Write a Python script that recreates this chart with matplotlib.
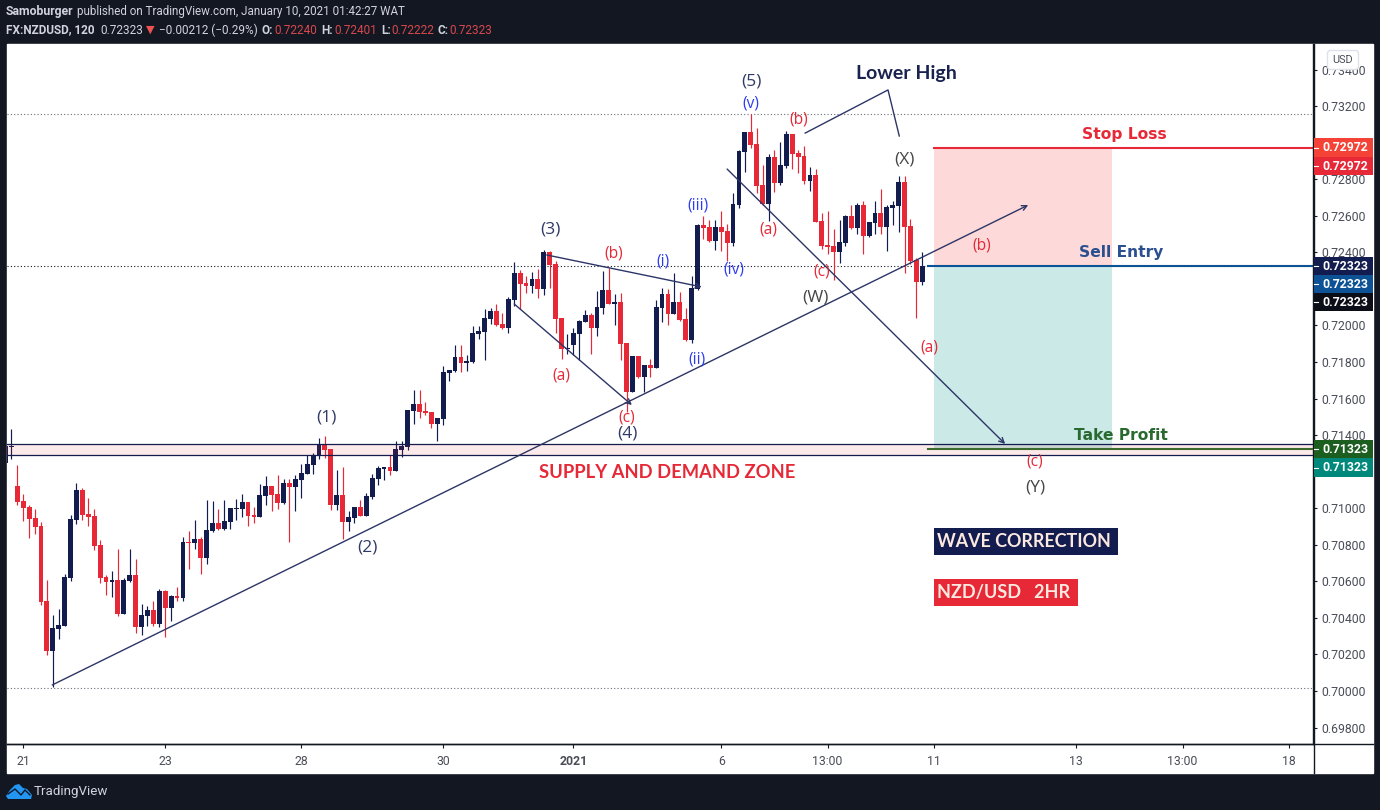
import numpy as np
import matplotlib
matplotlib.use('Agg')
import matplotlib.pyplot as plt
from matplotlib.patches import Rectangle, FancyBboxPatch, Polygon

# OHLC of the 2h bars, in 1e-5 price units
opens = [71249,71337,71122,71040,71007,70947,70903,70492,70221,70341,
         70356,70620,70936,71100,70969,70958,70799,70624,70598,70607,
         70421,70602,70635,70350,70410,70443,70367,70547,70454,70520,
         70509,70815,70810,70832,70728,70876,70919,70886,70925,70996,
         70996,71034,70963,70952,71067,71122,71078,71029,71138,71116,
         71155,71187,71237,71291,71346,71324,71018,71073,70925,70947,
         71007,70958,71062,71160,71215,71226,71204,71319,71335,71532,
         71570,71532,71527,71461,71488,71740,71751,71828,71795,71800,
         71954,71964,72036,72079,72008,71986,72140,72287,72233,72216,
         72254,72200,72402,72337,72041,71871,71893,71954,72019,72057,
         71986,72096,72194,72118,72129,71904,71636,71833,71718,71782,
         71767,72096,72172,72063,72129,72036,71921,72200,72550,72539,
         72462,72539,72517,72451,72659,72949,73059,72993,72769,72665,
         72922,72780,72873,73048,72944,72928,72791,72824,72572,72441,
         72435,72402,72451,72599,72534,72659,72490,72561,72616,72539,
         72643,72654,72785,72544,72358,72240]
highs = [71355,71434,71237,71078,71018,70996,70925,70607,70416,70449,
         70640,70963,71138,71111,71056,70996,70826,70635,70657,70777,
         70618,70777,70722,70476,70465,70492,70558,70553,70525,70569,
         70843,70876,70936,70843,71045,71040,70996,71045,71001,71051,
         71078,71034,71007,71133,71176,71122,71182,71160,71160,71182,
         71242,71291,71302,71384,71395,71324,71209,71226,70985,71007,
         71045,71083,71187,71231,71226,71291,71368,71368,71538,71647,
         71647,71581,71527,71494,71778,71757,71893,71893,71839,71997,
         71997,72090,72096,72118,72068,72156,72347,72304,72271,72293,
         72309,72413,72408,72353,72041,71954,71986,72030,72085,72068,
         72189,72298,72315,72172,72178,71904,71833,71833,71784,71817,
         72140,72205,72200,72287,72183,72096,72271,72555,72599,72577,
         72577,72627,72555,72725,72960,73059,73157,73081,72878,72938,
         72960,73004,73064,73048,72960,72982,72867,72856,72616,72627,
         72528,72577,72605,72659,72670,72681,72566,72681,72747,72659,
         72681,72818,72818,72583,72369,72401]
lows = [71246,71270,71018,70932,70839,70859,70472,70197,70020,70286,
        70356,70602,70914,70936,70903,70772,70593,70525,70514,70410,
        70421,70596,70317,70306,70356,70356,70350,70295,70383,70492,
        70492,70668,70777,70640,70695,70870,70881,70881,70886,70936,
        70952,70903,70919,70952,71018,70985,70996,71023,70815,70985,
        71056,71187,71187,71270,71275,70990,70990,70832,70876,70919,
        70958,70958,71051,71127,71155,71182,71204,71280,71319,71461,
        71494,71510,71439,71368,71456,71696,71746,71746,71751,71795,
        71926,71811,72008,71997,71981,71959,72107,72090,72178,72178,
        72150,72167,72205,71959,71817,71844,71839,71811,72019,71844,
        71943,72063,72118,72003,71811,71527,71636,71713,71636,71718,
        71767,72019,72003,72063,72025,71915,71904,72194,72473,72457,
        72413,72408,72353,72435,72643,72840,72971,72725,72659,72572,
        72731,72769,72862,72856,72834,72774,72736,72566,72419,72391,
        72249,72342,72435,72528,72501,72391,72484,72501,72501,72408,
        72550,72512,72287,72337,72041,72222]
closes = [71341,71341,71036,71003,70943,70899,70489,70221,70345,70361,
          70624,70941,71100,70963,70952,70795,70620,70596,70607,70421,
          70607,70635,70350,70416,70443,70367,70547,70454,70520,70509,
          70815,70810,70832,70728,70881,70919,70886,70930,71001,71001,
          71034,70958,70952,71073,71122,71073,71029,71138,71116,71160,
          71193,71242,71291,71352,71319,71018,71073,70925,70952,71007,
          70958,71067,71166,71220,71226,71204,71324,71341,71538,71570,
          71527,71521,71461,71494,71746,71757,71828,71795,71806,71959,
          71970,72041,72079,72003,71986,72145,72287,72227,72216,72254,
          72200,72402,72331,72036,71871,71877,71959,72025,72057,71986,
          72101,72194,72118,72129,71899,71636,71833,71718,71784,71769,
          72101,72172,72063,72129,72030,71921,72205,72550,72534,72462,
          72539,72512,72451,72665,72955,73059,72988,72763,72665,72922,
          72780,72878,73048,72938,72922,72791,72824,72566,72435,72430,
          72402,72457,72599,72534,72659,72490,72566,72616,72539,72648,
          72659,72785,72539,72353,72238,72323]

price_ticks = [0.698,0.700,0.702,0.704,0.706,0.708,0.710,0.712,0.714,0.716,0.718,
               0.720,0.722,0.724,0.726,0.728,0.730,0.732,0.734]
hidden_ticks = [0.712, 0.722, 0.730]  # covered by the price tags in the original
time_bars = [3,27,50,74,96,121,139,157,181,199,217]
time_labels = ['21','23','28','30','2021','6','13:00','11','13','13:00','18']

# drawn levels and tools, as bar index / price
entry, stop, target = 0.72323, 0.72972, 0.71323
pos_start, pos_end = 157, 187.1
zone_low, zone_high = 0.71294, 0.71350
top_dotted, bottom_dotted = 0.73155, 0.70017
trend_bars, trend_prices = [7.9, 172.9], [0.70033, 0.72659]
tri_a_bars, tri_a_prices = [86, 105.9], [0.72118, 0.71565]
tri_b_bars, tri_b_prices = [91.5, 117.7], [0.72386, 0.72211]
down_bars, down_prices = [122, 169], [0.72856, 0.71352]
lower_bars, lower_prices = [135.2, 149.2, 151.1], [0.73053, 0.73289, 0.73037]

NAVY = '#131c4f'
RED = '#e62837'
BLUE_TXT = '#2b3cf0'
LINE = '#2c3566'
BG = '#131722'
W, H = 1380, 810

o, h, l, c = [np.array(v) / 1e5 for v in (opens, highs, lows, closes)]
bars = np.arange(len(o))
colors = [RED if c[i] < o[i] else NAVY for i in bars]

fig = plt.figure(figsize=(W / 100, H / 100), dpi=100, facecolor=BG)
fig.add_artist(Rectangle((7 / W, 1 - 773 / H), 1366 / W, 729 / H, transform=fig.transFigure,
                         color='white', zorder=-1))
ax = fig.add_axes([7 / W, 1 - 744 / H, 1306 / W, 700 / H], facecolor='white')
ax.set_xlim((7 - 5.5) / 5.915, (1313 - 5.5) / 5.915)
ax.set_ylim(0.70 - 53 / 18275, 0.70 + 647 / 18275)

ax.vlines(bars, l, h, colors=colors, lw=0.85, zorder=3)
ax.bar(bars, np.abs(c - o) + 0.00002, bottom=np.minimum(o, c), width=0.82, color=colors, zorder=3, lw=0)

# zone and levels
ax.axhspan(zone_low, zone_high, color=RED, alpha=0.1, lw=0, zorder=4)
ax.axhline(zone_low, color=NAVY, lw=0.9, zorder=4)
ax.axhline(zone_high, color=NAVY, lw=0.9, zorder=4)
ax.axhline(top_dotted, color='#6a6d78', lw=0.8, ls=(0, (1, 2)), zorder=1)
ax.axhline(bottom_dotted, color='#6a6d78', lw=0.8, ls=(0, (1, 2)), zorder=1)
ax.axhline(entry, color='#131722', lw=0.8, ls=(0, (1, 2)), zorder=1)

# long/short tool
ax.fill_between([pos_start, pos_end], entry, stop, color='#fdd9d9', lw=0, zorder=1)
ax.fill_between([pos_start, pos_end], target, entry, color='#cbe9e7', lw=0, zorder=1)
xr = ax.get_xlim()[1]
ax.plot([pos_start, xr], [stop, stop], color=RED, lw=1.5, zorder=2)
ax.plot([156, xr], [entry, entry], color='#0d5295', lw=1.5, zorder=2)
ax.plot([156, xr], [target, target], color='#3b6a2e', lw=1.5, zorder=5)


def arrow_line(xs, ys):
    ax.annotate('', xy=(xs[1], ys[1]), xytext=(xs[0], ys[0]), zorder=6,
                arrowprops=dict(arrowstyle='->', color=LINE, lw=1, shrinkA=0, shrinkB=0, mutation_scale=9))


arrow_line(trend_bars, trend_prices)
arrow_line(tri_a_bars, tri_a_prices)
arrow_line(tri_b_bars, tri_b_prices)
arrow_line(down_bars, down_prices)
ax.plot(lower_bars, lower_prices, color=LINE, lw=1, zorder=6)

# axes furniture
for s in ['top', 'left']:
    ax.spines[s].set_visible(False)
ax.spines['right'].set_linewidth(1.0)
ax.spines['bottom'].set_linewidth(1.0)
ax.spines['right'].set_color('#131722')
ax.spines['bottom'].set_color('#131722')
ax.yaxis.tick_right()
ax.set_yticks(price_ticks)
ax.set_yticklabels(['' if p in hidden_ticks else '%.5f' % p for p in price_ticks],
                   fontfamily='Roboto', fontsize=8.8, color='#4a4d58')
ax.set_xticks(time_bars)
ax.set_xticklabels(time_labels, fontfamily='Roboto', fontsize=8.8, color='#4a4d58')
ax.tick_params(axis='y', length=3, width=0.8, color='#131722', pad=3.2)
ax.tick_params(axis='x', length=3, width=0.8, color='#131722', pad=5)
ax.get_xticklabels()[4].set_fontweight('bold')

# overlay in image pixels for text and boxes
ov = fig.add_axes([0, 0, 1, 1], facecolor='none', zorder=5)
ov.set_xlim(0, W)
ov.set_ylim(H, 0)
ov.axis('off')

ov.plot([7, 1373], [744, 744], color='#131722', lw=1.0)
ov.plot([1313.5, 1313.5], [44, 773], color='#131722', lw=1.0)

# price labels on the axis
tags = [(138, 157, '#f44336', stop), (157, 175, RED, stop),
        (257, 275, NAVY, entry), (275, 293, '#0d5295', entry), (293, 311, '#0c0e17', entry),
        (440, 458, '#1b5e20', target), (458, 477, '#00897b', target)]
for top, bot, col, val in tags:
    ov.add_patch(Rectangle((1314, top), 59, bot - top, color=col, lw=0, zorder=3))
    ov.plot([1314, 1318], [(top + bot) / 2] * 2, color='white', lw=0.8, zorder=4)
    ov.text(1322, (top + bot) / 2 + 0.3, '%.5f' % val, color='white', fontsize=8.8, fontweight='bold',
            fontfamily='Roboto', va='center', ha='left', zorder=4)

# USD button
ov.add_patch(FancyBboxPatch((1329, 52), 28, 16, boxstyle='round,pad=1.5,rounding_size=3',
                            fc='white', ec='#dfe1e8', lw=1, zorder=3))
ov.text(1343, 60, 'USD', fontfamily='Roboto', fontsize=7.8, color='#4a4d58', ha='center', va='center', zorder=4)

# wave labels
dark = '#2f3a66'
grey = '#454545'
wave_labels = [('(1)', 326, 418, dark), ('(2)', 367, 547, dark), ('(3)', 550, 230, dark),
               ('(4)', 627, 434, dark), ('(5)', 751, 81, dark), ('(X)', 904, 159, grey),
               ('(W)', 815, 298, grey), ('(Y)', 1035, 488, grey)]
sub_labels = [('(v)', 751, 103, BLUE_TXT), ('(iii)', 698, 205, BLUE_TXT), ('(i)', 663, 262, BLUE_TXT),
              ('(iv)', 734, 269, BLUE_TXT), ('(ii)', 697, 359, BLUE_TXT),
              ('(b)', 799, 120, RED), ('(a)', 768, 230, RED), ('(c)', 822, 272, RED),
              ('(b)', 614, 253, RED), ('(a)', 561, 375, RED), ('(c)', 627, 418, RED),
              ('(a)', 929, 347, RED), ('(b)', 982, 246, RED), ('(c)', 1035, 462, RED)]
for t, x, y, col in wave_labels:
    ov.text(x, y, t, color=col, fontsize=12.5, fontfamily='Open Sans', ha='center', va='center')
for t, x, y, col in sub_labels:
    ov.text(x, y, t, color=col, fontsize=11.2, fontfamily='Open Sans', ha='center', va='center')

ov.text(906, 73, 'Lower High', color='#1a2350', fontsize=14, fontfamily='Lato', fontweight='bold',
        ha='center', va='center')
ov.text(1124, 134, 'Stop Loss', color=RED, fontsize=11.2, fontweight='bold', fontfamily='DejaVu Sans',
        ha='center', va='center')
ov.text(1121, 253, 'Sell Entry', color='#2a5090', fontsize=11.2, fontweight='bold', fontfamily='DejaVu Sans',
        ha='center', va='center')
ov.text(1121, 436, 'Take Profit', color='#2a6a30', fontsize=11.2, fontweight='bold', fontfamily='DejaVu Sans',
        ha='center', va='center')
ov.text(667, 472, 'SUPPLY AND DEMAND ZONE', color=RED, fontsize=13.2, fontfamily='Lato', fontweight='bold',
        ha='center', va='center')

ov.add_patch(Rectangle((934, 528), 184, 27, color='#131c4f', lw=0))
ov.text(937, 541.5, 'WAVE CORRECTION', color='#fbe9e0', fontsize=12.9, fontweight='bold', fontfamily='Lato', va='center')
ov.add_patch(Rectangle((934, 579), 144, 27, color=RED, lw=0))
ov.text(937, 592.5, 'NZD/USD   2HR', color='#fbe9e0', fontsize=13, fontweight='bold', fontfamily='Lato', va='center')

# header
head = '#d1d4dc'
hred = '#d9484d'
ov.text(6, 12, 'Samoburger', color=head, fontsize=8.8, fontweight='bold', fontfamily='Roboto', va='center')
ov.text(77, 12, 'published on TradingView.com, January 10, 2021 01:42:27 WAT', color=head, fontsize=8.4,
        fontfamily='Roboto', va='center')
row = [(6, 'FX:NZDUSD, 120', head, 'bold'), (100, '0.72323', head, 'normal'),
       (159, '\u22120.00212 (\u22120.29%)', head, 'normal'),
       (262, 'O:', head, 'bold'), (274, '0.72240', hred, 'normal'),
       (321, 'H:', head, 'bold'), (334, '0.72401', hred, 'normal'),
       (381, 'L:', head, 'bold'), (391, '0.72222', hred, 'normal'),
       (438, 'C:', head, 'bold'), (449, '0.72323', hred, 'normal')]
for x, t, col, wt in row:
    ov.text(x, 30, t, color=col, fontsize=8.5, fontweight=wt, fontfamily='Roboto', va='center')
ov.text(150.5, 30, '\u25bc', color='#ef5350', fontsize=8, fontfamily='DejaVu Sans', ha='center', va='center')

# footer logo
cloud = [(6, 796), (10, 790), (15, 785), (19, 784), (23, 788), (27, 789), (32, 795), (31, 799), (8, 799)]
ov.add_patch(Polygon(cloud, closed=True, color='#2196f3', lw=0))
ov.plot([8, 15, 21, 25, 30], [794, 789, 795, 790, 795], color=BG, lw=1)
ov.text(34, 792, 'TradingView', color=head, fontsize=9.6, fontfamily='Roboto', va='center')

fig.savefig('out.png', dpi=100, facecolor=BG)
